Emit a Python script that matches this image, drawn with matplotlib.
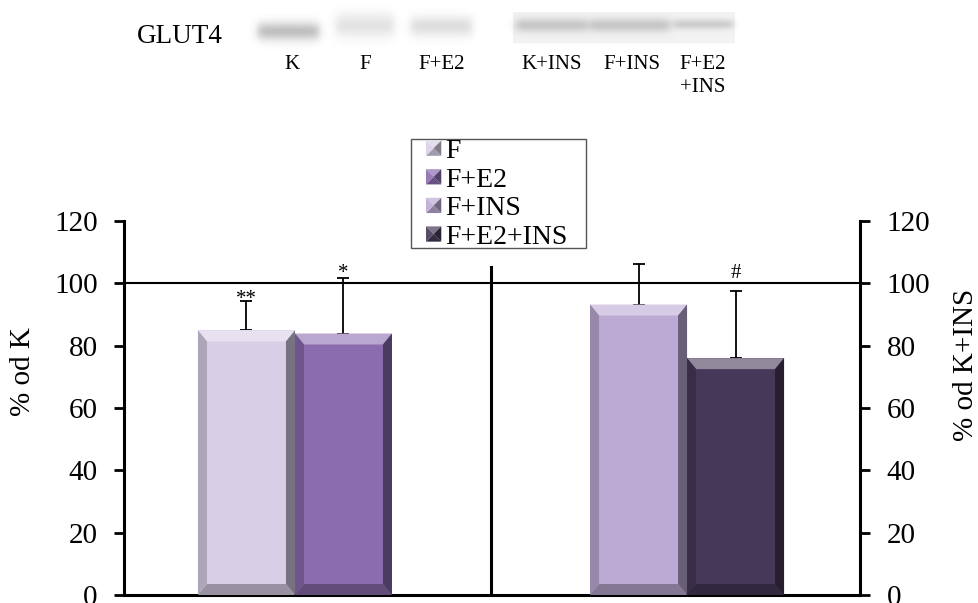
import numpy as np
import matplotlib
matplotlib.use("Agg")
import matplotlib.pyplot as plt
from matplotlib.patches import Polygon, Patch, Rectangle
from matplotlib.legend_handler import HandlerPatch
from matplotlib.colors import to_rgb

plt.rcParams['font.family'] = ['Liberation Serif', 'DejaVu Serif']

# ---------------- data ----------------
series = ['F', 'F+E2', 'F+INS', 'F+E2+INS']
values = [84.9, 83.9, 93.2, 76.0]
errors = [9.4, 17.7, 12.9, 21.5]
colors = ['#D8CFE6', '#8A6CAF', '#BDAAD4', '#463858']
group_pos = [0, 0, 1, 1]
offsets = [-1, 1, -1, 1]
marks = ['**', '*', '', '#']
mark_y = [93.3, 101.8, None, 101.6]
lane_labels = ['K', 'F', 'F+E2', 'K+INS', 'F+INS', 'F+E2\n+INS']
yticks = [0, 20, 40, 60, 80, 100, 120]

W, H = 979, 603
fig = plt.figure(figsize=(W / 100, H / 100), dpi=100)

# ---------------- blot panel (decorative image) ----------------
axb = fig.add_axes([0, 1 - 110 / H, 1, 110 / H])
axb.set_xlim(0, W)
axb.set_ylim(110, 0)
axb.axis('off')
img = np.ones((110, W))
yy, xx = np.mgrid[0:110, 0:W] + 0.5
panel = (xx >= 513) & (xx <= 735) & (yy >= 13) & (yy <= 44)
img[panel] = 0.95
bands = [  # x0, x1, yc, half-height, depth
    (258, 319, 32, 9, 0.25),
    (336, 394, 26, 12, 0.11),
    (411, 472, 27, 10, 0.13),
    (516, 588, 26, 7, 0.17),
    (590, 670, 26, 7, 0.17),
    (674, 733, 25, 5, 0.15),
]
for x0, x1, yc, hh, d in bands:
    fx = 0.5 * (np.tanh((xx - x0) / 5) - np.tanh((xx - x1) / 5))
    fy = np.exp(-((yy - yc) / hh) ** 2)
    img = img - d * fx * fy
axb.imshow(img, cmap='gray', vmin=0, vmax=1, extent=(0, W, 110, 0),
           aspect='auto', interpolation='bilinear')
axb.text(137, 42.7, 'GLUT4', fontsize=19.5, ha='left', va='baseline')
lane_x = [292, 365, 442, 552, 632, 703]
for lx, lab in zip(lane_x, lane_labels):
    axb.text(lx, 55, lab, fontsize=15, ha='center', va='top', linespacing=1.25)

# ---------------- main chart ----------------
ax_l, ax_b, ax_w, ax_h = 124, 595, 736, 374
ax = fig.add_axes([ax_l / W, (H - ax_b) / H, ax_w / W, ax_h / H])
xmin, xmax = -0.436, 1.441
ax.set_xlim(xmin, xmax)
ax.set_ylim(0, 120)
bw = 0.2474

xs = [g + o * bw / 2 for g, o in zip(group_pos, offsets)]
bars = ax.bar(xs, values, width=bw, color=colors, edgecolor='none', zorder=2)

bpx_x = 9 * (xmax - xmin) / ax_w
bpx_y = 11 * 120 / ax_h


def mix(c, t, amt):
    c = np.array(to_rgb(c))
    t = np.array(to_rgb(t))
    return tuple(c * (1 - amt) + t * amt)


for b, c in zip(bars, colors):
    x0 = b.get_x(); x1 = x0 + b.get_width(); y1 = b.get_height(); y0 = 0
    bx, by = bpx_x, bpx_y
    polys = [
        ([(x0, y1), (x1, y1), (x1 - bx, y1 - by), (x0 + bx, y1 - by)], mix(c, 'white', 0.4)),
        ([(x0, y0), (x1, y0), (x1 - bx, y0 + by), (x0 + bx, y0 + by)], mix(c, 'black', 0.3)),
        ([(x0, y0), (x0, y1), (x0 + bx, y1 - by), (x0 + bx, y0 + by)], mix(c, 'black', 0.2)),
        ([(x1, y0), (x1, y1), (x1 - bx, y1 - by), (x1 - bx, y0 + by)], mix(c, 'black', 0.45)),
    ]
    for pts, col in polys:
        ax.add_patch(Polygon(pts, closed=True, facecolor=col, edgecolor='none', zorder=3))

ax.errorbar(xs, values, yerr=[np.zeros(len(errors)), errors], fmt='none',
            ecolor='black', elinewidth=1.3, capsize=4.5, capthick=1.3, zorder=1)

for x, m, my in zip(xs, marks, mark_y):
    if m:
        ax.text(x, my, m, fontsize=15, ha='center', va='baseline')

ax.axhline(100, color='black', lw=1.5, zorder=4)
ax.plot([0.5, 0.5], [0, 105.1], color='black', lw=2.2, zorder=4, clip_on=False)

for s in ['top', 'right']:
    ax.spines[s].set_visible(False)
for s in ['left', 'bottom']:
    ax.spines[s].set_linewidth(2.2)
ax.set_xticks([])
ax.set_yticks(yticks)
ax.tick_params(axis='y', direction='out', length=7, width=2, labelsize=21, pad=12)

ax2 = ax.twinx()
ax2.set_ylim(0, 120)
ax2.set_yticks(yticks)
for s in ['top', 'left', 'bottom']:
    ax2.spines[s].set_visible(False)
ax2.spines['right'].set_linewidth(2.2)
ax2.tick_params(axis='y', direction='out', length=7, width=2, labelsize=21, pad=12)

fig.text(23 / W, 1 - 372 / H, '% od K', rotation=90, fontsize=21, ha='center', va='center')
fig.text(966 / W, 1 - 365 / H, '% od K+INS', rotation=90, fontsize=21, ha='center', va='center')


class BevelHandler(HandlerPatch):
    def create_artists(self, legend, orig_handle, xdescent, ydescent, width,
                       height, fontsize, trans):
        c = orig_handle.get_facecolor()
        s = min(width, height)
        x0 = -xdescent + (width - s) / 2; y0 = -ydescent + (height - s) / 2
        x1, y1 = x0 + s, y0 + s
        cx, cy = (x0 + x1) / 2, (y0 + y1) / 2
        tris = [
            ([(x0, y1), (x1, y1), (cx, cy)], mix(c, 'white', 0.3)),
            ([(x0, y0), (x1, y0), (cx, cy)], mix(c, 'black', 0.25)),
            ([(x0, y0), (x0, y1), (cx, cy)], mix(c, 'white', 0.1)),
            ([(x1, y0), (x1, y1), (cx, cy)], mix(c, 'black', 0.4)),
        ]
        return [Polygon(pts, closed=True, facecolor=col, edgecolor='none', transform=trans)
                for pts, col in tris]


# legend frame drawn at its place, entries placed inside it
fig.add_artist(Rectangle((411 / W, 1 - 248 / H), 175 / W, 109 / H, transform=fig.transFigure,
                         facecolor='white', edgecolor='#555555', lw=1.0, zorder=5))
handles = [Patch(facecolor=c, label=s) for c, s in zip(colors, series)]
leg = fig.legend(handles=handles, loc='upper left',
                 bbox_to_anchor=(426 / W, 1 - 139 / H), bbox_transform=fig.transFigure,
                 fontsize=20, frameon=False, borderpad=0, labelspacing=0.13,
                 handlelength=0.55, handleheight=0.55, handletextpad=0.15, borderaxespad=0,
                 handler_map={Patch: BevelHandler()})
leg.set_zorder(6)

fig.savefig('out.png', dpi=100)
